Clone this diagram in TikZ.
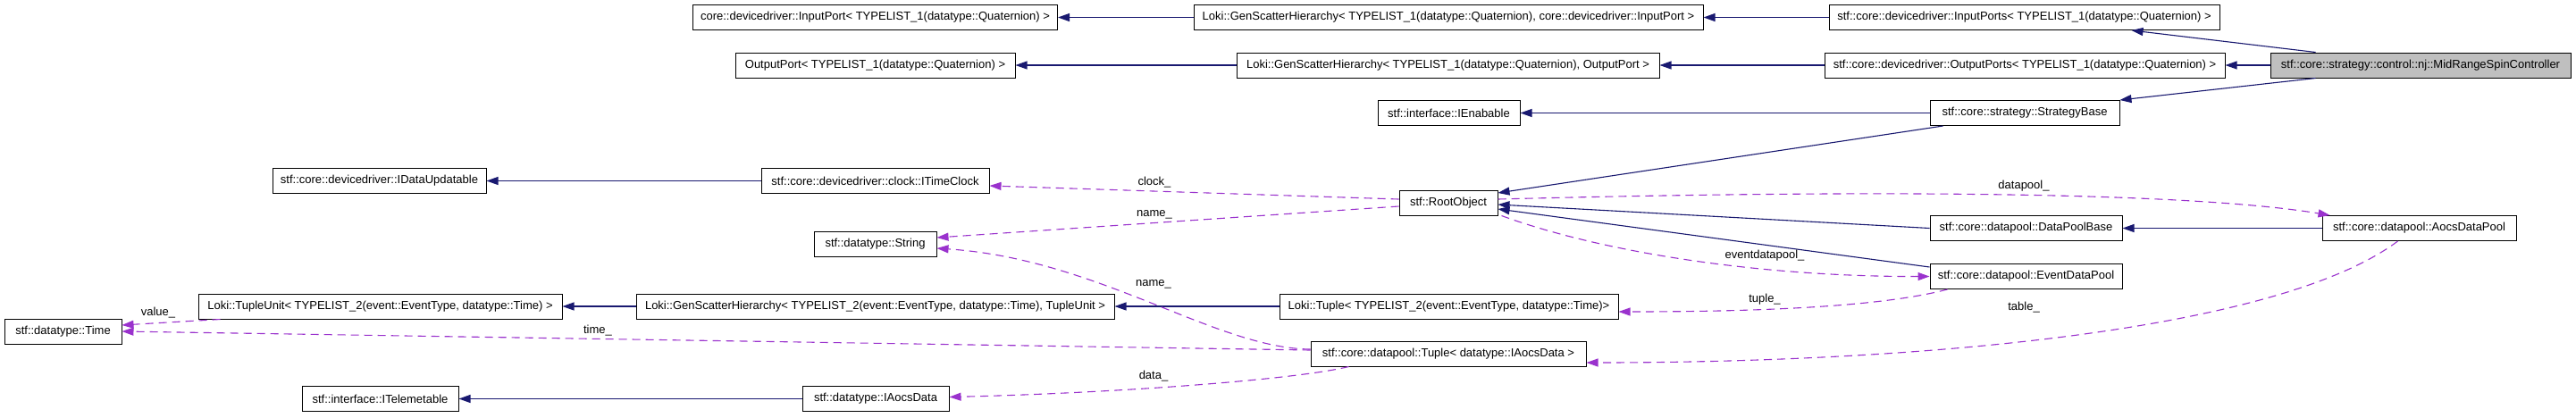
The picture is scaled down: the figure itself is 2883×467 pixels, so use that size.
\documentclass[tikz,border=0pt]{standalone}
\usepackage{fontspec}
\setmainfont{Liberation Sans}
\usepackage{tikz}
\usetikzlibrary{calc,arrows.meta,positioning}
\definecolor{inhBlue}{RGB}{25,25,112}
\definecolor{usePurple}{RGB}{154,50,205}
\definecolor{mainGray}{RGB}{191,191,191}

\begin{document}
\begin{tikzpicture}[x=1pt,y=-1pt,
  cls/.style={draw=black, fill=white, line width=1pt, minimum height=28pt, inner sep=2pt, font=\fontsize{13}{15}\selectfont},
  inh/.style={inhBlue, line width=1.1pt, -{Triangle[length=13pt,width=9pt]}},
  dep/.style={usePurple, line width=1.1pt, dash pattern=on 9pt off 6pt, -{Triangle[length=13pt,width=9pt]}},
  lbl/.style={font=\fontsize{13}{15}\selectfont, inner sep=0pt}]
\fill[white] (0,0) rectangle (2883,467);
\useasboundingbox (0,0) rectangle (2883,467);

% classes
\node[cls, minimum width=408pt] (inport) at (979.5,19.5) {core::devicedriver::InputPort< TYPELIST\_1(datatype::Quaternion) >};
\node[cls, minimum width=570pt] (gs1) at (1621,19.5) {Loki::GenScatterHierarchy< TYPELIST\_1(datatype::Quaternion), core::devicedriver::InputPort >};
\node[cls, minimum width=437pt] (inports) at (2265.5,19.5) {stf::core::devicedriver::InputPorts< TYPELIST\_1(datatype::Quaternion) >};
\node[cls, minimum width=313pt] (outport) at (979.5,73) {OutputPort< TYPELIST\_1(datatype::Quaternion) >};
\node[cls, minimum width=473pt] (gs2) at (1620.5,73) {Loki::GenScatterHierarchy< TYPELIST\_1(datatype::Quaternion), OutputPort >};
\node[cls, minimum width=448pt] (outports) at (2266,73) {stf::core::devicedriver::OutputPorts< TYPELIST\_1(datatype::Quaternion) >};
\node[cls, fill=mainGray, minimum width=336pt] (spin) at (2709,73) {stf::core::strategy::control::nj::MidRangeSpinController};
\node[cls, minimum width=159pt] (enab) at (1621.5,126.5) {stf::interface::IEnabable};
\node[cls, minimum width=212pt] (strat) at (2266,126.5) {stf::core::strategy::StrategyBase};
\node[cls, minimum width=239pt] (updt) at (424.5,202.5) {stf::core::devicedriver::IDataUpdatable};
\node[cls, minimum width=255pt] (clk) at (979.5,202.5) {stf::core::devicedriver::clock::ITimeClock};
\node[cls, minimum width=110pt] (root) at (1621,227) {stf::RootObject};
\node[cls, minimum width=137pt] (str) at (979.5,273) {stf::datatype::String};
\node[cls, minimum width=215pt] (dpbase) at (2267.5,255.5) {stf::core::datapool::DataPoolBase};
\node[cls, minimum width=217pt] (aocsdp) at (2707.5,255.5) {stf::core::datapool::AocsDataPool};
\node[cls, minimum width=215pt] (evdp) at (2267.5,309.5) {stf::core::datapool::EventDataPool};
\node[cls, minimum width=131pt] (time) at (70.5,371) {stf::datatype::Time};
\node[cls, minimum width=407pt] (tunit) at (425.5,343) {Loki::TupleUnit< TYPELIST\_2(event::EventType, datatype::Time) >};
\node[cls, minimum width=535pt] (gs3) at (979.5,343) {Loki::GenScatterHierarchy< TYPELIST\_2(event::EventType, datatype::Time), TupleUnit >};
\node[cls, minimum width=379pt] (ltuple) at (1621.5,343) {Loki::Tuple< TYPELIST\_2(event::EventType, datatype::Time)>};
\node[cls, minimum width=308pt] (dptuple) at (1621,396) {stf::core::datapool::Tuple< datatype::IAocsData >};
\node[cls, minimum width=175pt] (telem) at (425.5,446.5) {stf::interface::ITelemetable};
\node[cls, minimum width=164pt] (aocsd) at (980,446.5) {stf::datatype::IAocsData};

% inheritance
\draw[inh] (gs1.west) -- (inport.east);
\draw[inh] (inports.west) -- (gs1.east);
\draw[inh] ($(spin.north west)+(51,0)$) -- ($(inports.south east)+(-99,0)$);
\draw[inh] (gs2.west) -- (outport.east);
\draw[inh] (outports.west) -- (gs2.east);
\draw[inh] (spin.west) -- (outports.east);
\draw[inh] (strat.west) -- (enab.east);
\draw[inh] ($(spin.south west)+(51,0)$) -- (strat.north east);
\draw[inh] ($(strat.south west)+(15,0)$) -- ($(root.east)+(0,-11)$);
\draw[inh] (clk.west) -- (updt.east);
\draw[inh] (dpbase.west) -- ($(root.east)+(0,2)$);
\draw[inh] ($(evdp.north west)+(0,4)$) -- ($(root.east)+(0,7)$);
\draw[inh] (aocsdp.west) -- (dpbase.east);
\draw[inh] (gs3.west) -- (tunit.east);
\draw[inh] (ltuple.west) -- (gs3.east);
\draw[inh] (aocsd.west) -- (telem.east);

% usage
\draw[dep] ($(root.west)+(0,-4)$) -- ($(clk.east)+(0,5.5)$);
\node[lbl] (lclock) at (1292,204) {clock\_};
\draw[dep] ($(root.west)+(0,4)$) -- ($(str.east)+(0,-7)$);
\node[lbl] (lname) at (1292,240) {name\_};
\draw[dep] ($(root.east)+(0,-4)$) .. controls (2100,212) and (2450,215) .. ($(aocsdp.north west)+(9,0)$);
\node[lbl] (lpool) at (2265,208) {datapool\_};
\draw[dep] ($(root.south east)+(4,0)$) .. controls (1800,285) and (1980,310) .. (evdp.west);
\node[lbl] (levent) at (1975,286) {eventdatapool\_};
\draw[dep] ($(evdp.south west)+(20,0)$) .. controls (2100,345) and (1950,349) .. ($(ltuple.east)+(0,6)$);
\node[lbl] (ltup) at (1975,335) {tuple\_};
\draw[dep] ($(tunit.south west)+(25,0)$) -- ($(time.east)+(0,-7)$);
\node[lbl] (lvalue) at (177,350) {value\_};
\draw[dep] ($(dptuple.west)+(0,-4)$) -- (time.east);
\node[lbl] (ltime) at (669,370) {time\_};
\draw[dep] ($(dptuple.west)+(0,-5)$) .. controls (1360,390) and (1230,290) .. ($(str.east)+(0,5)$);
\node[lbl] (lname2) at (1291,318) {name\_};
\draw[dep] ($(aocsdp.south west)+(85,0)$) .. controls (2550,370) and (2150,406) .. ($(dptuple.east)+(0,10)$);
\node[lbl] (ltable) at (2265,344) {table\_};
\draw[dep] ($(dptuple.south west)+(43,0)$) .. controls (1450,425) and (1250,440) .. ($(aocsd.east)+(0,-2)$);
\node[lbl] (ldata) at (1291,421) {data\_};
\end{tikzpicture}
\end{document}
